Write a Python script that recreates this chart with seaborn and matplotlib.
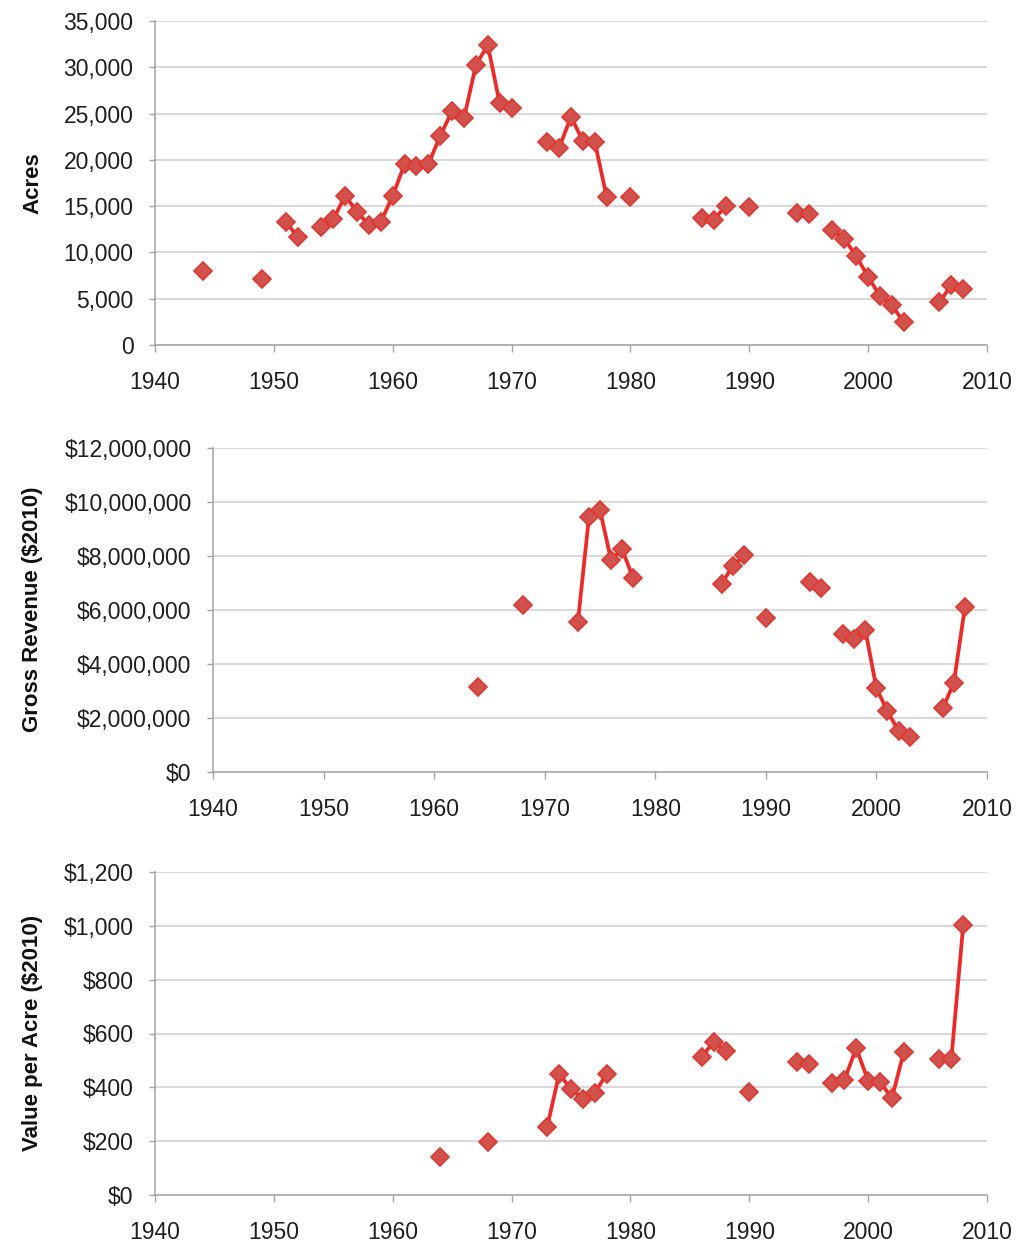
import numpy as np
import pandas as pd
import matplotlib
matplotlib.use("Agg")
import matplotlib.pyplot as plt
from matplotlib.ticker import FuncFormatter, MultipleLocator
import seaborn as sns

# Harvested acreage by year
acres_years = [1944, 1949, 1951, 1952, 1954, 1955, 1956, 1957, 1958, 1959, 1960,
               1961, 1962, 1963, 1964, 1965, 1966, 1967, 1968, 1969, 1970,
               1973, 1974, 1975, 1976, 1977, 1978, 1980, 1986, 1987, 1988, 1990,
               1994, 1995, 1997, 1998, 1999, 2000, 2001, 2002, 2003, 2006, 2007, 2008]
acres = [8000, 7100, 13300, 11700, 12750, 13600, 16100, 14400, 12950, 13300, 16100,
         19550, 19350, 19550, 22600, 25300, 24500, 30250, 32400, 26100, 25600,
         21950, 21300, 24650, 22050, 21950, 16000, 16000, 13700, 13500, 15000, 14900,
         14250, 14150, 12400, 11450, 9600, 7350, 5300, 4300, 2450, 4650, 6450, 6050]

# Gross revenue (2010 dollars)
revenue_years = [1964, 1968, 1973, 1974, 1975, 1976, 1977, 1978, 1986, 1987, 1988, 1990,
                 1994, 1995, 1997, 1998, 1999, 2000, 2001, 2002, 2003, 2006, 2007, 2008]
revenue = [3150000, 6180000, 5550000, 9430000, 9700000, 7850000, 8250000, 7180000,
           6980000, 7620000, 8020000, 5720000, 7030000, 6800000, 5100000, 4920000,
           5250000, 3100000, 2250000, 1520000, 1300000, 2360000, 3300000, 6100000]

# Value per acre (2010 dollars)
value_years = [1964, 1968, 1973, 1974, 1975, 1976, 1977, 1978, 1986, 1987, 1988, 1990,
               1994, 1995, 1997, 1998, 1999, 2000, 2001, 2002, 2003, 2006, 2007, 2008]
value_per_acre = [141, 197, 253, 450, 394, 357, 379, 450, 513, 569, 535, 383,
                  494, 487, 416, 427, 546, 424, 420, 360, 531, 505, 505, 1003]

LINE = "#EC2A27"
FACE = "#D1514C"
EDGE = "#E0362F"

sns.set_style("white")
plt.rcParams["font.family"] = ["Liberation Sans", "DejaVu Sans"]


def frame(years, values):
    """Series with a run id so that gaps in the years break the line."""
    years = np.asarray(years)
    seg = np.concatenate([[0], np.cumsum(np.diff(years) > 1)])
    return pd.DataFrame({"year": years, "value": values, "run": seg})


def dollars(v, _):
    return f"${v:,.0f}"


def plain(v, _):
    return f"{v:,.0f}"


W, H = 1021, 1247
fig = plt.figure(figsize=(W / 100, H / 100), dpi=100)

panels = [
    dict(box=(155, 21, 987, 345), years=acres_years, vals=acres, top=35000, step=5000,
         fmt=plain, label="Acres", ly=183),
    dict(box=(213, 448, 987, 772), years=revenue_years, vals=revenue, top=12000000,
         step=2000000, fmt=dollars, label="Gross Revenue ($2010)", ly=609),
    dict(box=(155, 872, 987, 1195), years=value_years, vals=value_per_acre, top=1200,
         step=200, fmt=dollars, label="Value per Acre ($2010)", ly=1033),
]

for p in panels:
    x0, y0, x1, y1 = p["box"]
    ax = fig.add_axes([x0 / W, 1 - y1 / H, (x1 - x0) / W, (y1 - y0) / H])
    df = frame(p["years"], p["vals"])
    sns.lineplot(data=df, x="year", y="value", units="run", estimator=None, ax=ax,
                 color=LINE, linewidth=2.7, marker="D", markersize=9.5,
                 markerfacecolor=FACE, markeredgecolor=EDGE, markeredgewidth=1.2,
                 legend=False)

    ax.set_xlim(1940, 2010)
    ax.set_ylim(0, p["top"])
    ax.xaxis.set_major_locator(MultipleLocator(10))
    ax.yaxis.set_major_locator(MultipleLocator(p["step"]))
    ax.yaxis.set_major_formatter(FuncFormatter(p["fmt"]))
    ax.xaxis.set_major_formatter(FuncFormatter(lambda v, _: f"{v:.0f}"))

    ax.grid(axis="y", color="#D6D6D6", linewidth=1.3)
    ax.grid(axis="x", visible=False)
    ax.set_axisbelow(True)
    for side in ("top", "right"):
        ax.spines[side].set_visible(False)
    for side in ("left", "bottom"):
        ax.spines[side].set_color("#A3A3A3")
        ax.spines[side].set_linewidth(1.1)

    ax.tick_params(axis="y", which="major", direction="out", length=4.5, width=1,
                   color="#A3A3A3", pad=11, labelsize=16.5, labelcolor="#1E1E1E", left=True)
    ax.tick_params(axis="x", which="major", direction="out", length=5, width=1,
                   color="#A3A3A3", pad=13.5, labelsize=16.5, labelcolor="#1E1E1E", bottom=True)

    ax.set_xlabel("")
    ax.set_ylabel(p["label"], fontsize=16, fontweight="bold", color="#111111")
    ax.yaxis.set_label_coords(33 / W, 1 - p["ly"] / H, transform=fig.transFigure)
    ax.yaxis.label.set_va("center")

fig.savefig("out.png", dpi=100, facecolor="white")
